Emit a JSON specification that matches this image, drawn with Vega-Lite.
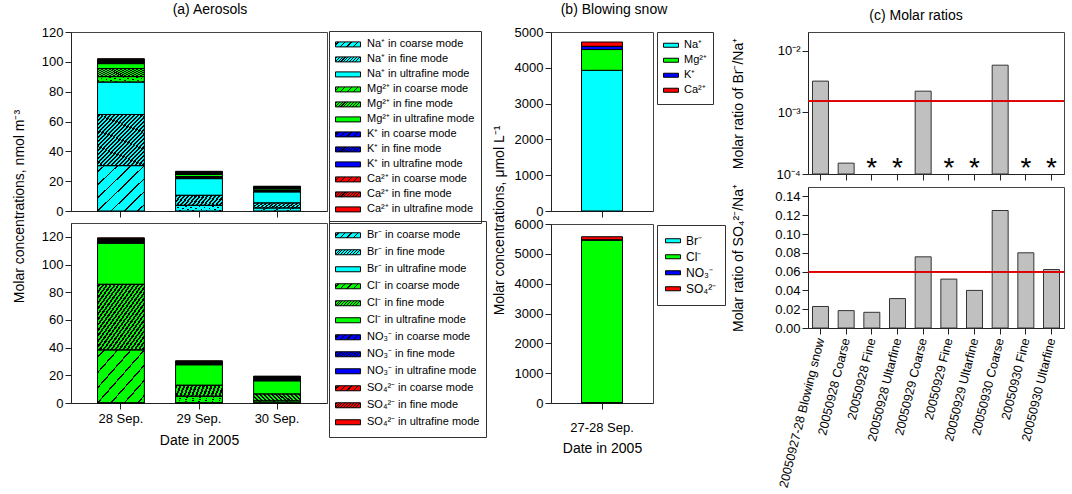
{
  "$schema": "https://vega.github.io/schema/vega-lite/v6.json",
  "background": "white",
  "padding": {"left": 11, "top": 2, "right": 2, "bottom": 0},
  "spacing": 4,
  "resolve": {"scale": {"fill": "independent"}, "legend": {"fill": "independent"}},
  "hconcat": [
    {
      "bounds": "flush",
      "spacing": 12,
      "resolve": {"scale": {"fill": "independent"}, "legend": {"fill": "independent"}},
      "vconcat": [
        {
          "width": 256,
          "height": 179,
          "title": {"text": "(a) Aerosols", "dx": 11, "frame": "group", "offset": 9},
          "data": {"values": [
            {"d": "28 Sep.", "mode": "coarse", "label": "Na⁺ in coarse mode", "v": 30.4},
            {"d": "28 Sep.", "mode": "fine", "label": "Na⁺ in fine mode", "v": 34.3},
            {"d": "28 Sep.", "mode": "ultrafine", "label": "Na⁺ in ultrafine mode", "v": 21.7},
            {"d": "28 Sep.", "mode": "coarse", "label": "Mg²⁺ in coarse mode", "v": 3.7},
            {"d": "28 Sep.", "mode": "fine", "label": "Mg²⁺ in fine mode", "v": 5.4},
            {"d": "28 Sep.", "mode": "ultrafine", "label": "Mg²⁺ in ultrafine mode", "v": 3.3},
            {"d": "28 Sep.", "mode": "coarse", "label": "K⁺ in coarse mode", "v": 0.5},
            {"d": "28 Sep.", "mode": "fine", "label": "K⁺ in fine mode", "v": 0.7},
            {"d": "28 Sep.", "mode": "ultrafine", "label": "K⁺ in ultrafine mode", "v": 0.4},
            {"d": "28 Sep.", "mode": "coarse", "label": "Ca²⁺ in coarse mode", "v": 0.6},
            {"d": "28 Sep.", "mode": "fine", "label": "Ca²⁺ in fine mode", "v": 0.6},
            {"d": "28 Sep.", "mode": "ultrafine", "label": "Ca²⁺ in ultrafine mode", "v": 0.5},
            {"d": "29 Sep.", "mode": "coarse", "label": "Na⁺ in coarse mode", "v": 3.8},
            {"d": "29 Sep.", "mode": "fine", "label": "Na⁺ in fine mode", "v": 6.7},
            {"d": "29 Sep.", "mode": "ultrafine", "label": "Na⁺ in ultrafine mode", "v": 11.2},
            {"d": "29 Sep.", "mode": "coarse", "label": "Mg²⁺ in coarse mode", "v": 0.6},
            {"d": "29 Sep.", "mode": "fine", "label": "Mg²⁺ in fine mode", "v": 0.8},
            {"d": "29 Sep.", "mode": "ultrafine", "label": "Mg²⁺ in ultrafine mode", "v": 1.4},
            {"d": "29 Sep.", "mode": "coarse", "label": "K⁺ in coarse mode", "v": 0.3},
            {"d": "29 Sep.", "mode": "fine", "label": "K⁺ in fine mode", "v": 0.4},
            {"d": "29 Sep.", "mode": "ultrafine", "label": "K⁺ in ultrafine mode", "v": 0.3},
            {"d": "29 Sep.", "mode": "coarse", "label": "Ca²⁺ in coarse mode", "v": 0.3},
            {"d": "29 Sep.", "mode": "fine", "label": "Ca²⁺ in fine mode", "v": 0.5},
            {"d": "29 Sep.", "mode": "ultrafine", "label": "Ca²⁺ in ultrafine mode", "v": 0.3},
            {"d": "30 Sep.", "mode": "coarse", "label": "Na⁺ in coarse mode", "v": 2.0},
            {"d": "30 Sep.", "mode": "fine", "label": "Na⁺ in fine mode", "v": 3.4},
            {"d": "30 Sep.", "mode": "ultrafine", "label": "Na⁺ in ultrafine mode", "v": 7.4},
            {"d": "30 Sep.", "mode": "coarse", "label": "Mg²⁺ in coarse mode", "v": 0.4},
            {"d": "30 Sep.", "mode": "fine", "label": "Mg²⁺ in fine mode", "v": 0.6},
            {"d": "30 Sep.", "mode": "ultrafine", "label": "Mg²⁺ in ultrafine mode", "v": 1.0},
            {"d": "30 Sep.", "mode": "coarse", "label": "K⁺ in coarse mode", "v": 0.3},
            {"d": "30 Sep.", "mode": "fine", "label": "K⁺ in fine mode", "v": 0.4},
            {"d": "30 Sep.", "mode": "ultrafine", "label": "K⁺ in ultrafine mode", "v": 0.2},
            {"d": "30 Sep.", "mode": "coarse", "label": "Ca²⁺ in coarse mode", "v": 0.3},
            {"d": "30 Sep.", "mode": "fine", "label": "Ca²⁺ in fine mode", "v": 0.4},
            {"d": "30 Sep.", "mode": "ultrafine", "label": "Ca²⁺ in ultrafine mode", "v": 0.2}
          ]},
          "transform": [{"calculate": "indexof(['Na⁺ in coarse mode', 'Na⁺ in fine mode', 'Na⁺ in ultrafine mode', 'Mg²⁺ in coarse mode', 'Mg²⁺ in fine mode', 'Mg²⁺ in ultrafine mode', 'K⁺ in coarse mode', 'K⁺ in fine mode', 'K⁺ in ultrafine mode', 'Ca²⁺ in coarse mode', 'Ca²⁺ in fine mode', 'Ca²⁺ in ultrafine mode'], datum.label)", "as": "rank"}],
          "resolve": {"scale": {"fill": "independent"}},
          "layer": [
            {
              "mark": {"type": "bar"},
              "encoding": {
                "x": {"field": "d", "type": "nominal", "sort": null, "scale": {"paddingInner": 0.4, "paddingOuter": 0.34}, "axis": {"labels": false, "title": null, "labelAngle": 0}},
                "y": {"field": "v", "type": "quantitative", "stack": "zero", "scale": {"domain": [0, 120], "nice": false}, "axis": {"values": [0, 20, 40, 60, 80, 100, 120], "tickCount": 20, "labelOverlap": false, "title": "Molar concentrations, nmol m⁻³", "titleX": -45, "titleY": 174}},
                "order": {"field": "rank", "type": "quantitative", "sort": "ascending"},
                "fill": {
                  "field": "label", "type": "nominal", "legend": null,
                  "scale": {
                    "domain": ["Na⁺ in coarse mode", "Na⁺ in fine mode", "Na⁺ in ultrafine mode", "Mg²⁺ in coarse mode", "Mg²⁺ in fine mode", "Mg²⁺ in ultrafine mode", "K⁺ in coarse mode", "K⁺ in fine mode", "K⁺ in ultrafine mode", "Ca²⁺ in coarse mode", "Ca²⁺ in fine mode", "Ca²⁺ in ultrafine mode"],
                    "range": ["#00ffff", "#00ffff", "#00ffff", "#00ff00", "#00ff00", "#00ff00", "#0000ff", "#0000ff", "#0000ff", "#ff0000", "#ff0000", "#ff0000"]
                  }
                }
              }
            },
            {
              "mark": {"type": "bar", "stroke": "#000", "strokeWidth": 1},
              "encoding": {
                "x": {"field": "d", "type": "nominal", "sort": null},
                "y": {"field": "v", "type": "quantitative", "stack": "zero"},
                "order": {"field": "rank", "type": "quantitative", "sort": "ascending"},
                "detail": {"field": "label", "type": "nominal"},
                "fill": {
                  "condition": [
                    {"test": "datum.mode === 'coarse'", "value": {"gradient": "linear", "x1": 0, "y1": 0, "x2": 1, "y2": 1, "stops": [{"offset": 0.0624, "color": "transparent"}, {"offset": 0.0624, "color": "#000"}, {"offset": 0.0804, "color": "#000"}, {"offset": 0.0804, "color": "transparent"}, {"offset": 0.2053, "color": "transparent"}, {"offset": 0.2053, "color": "#000"}, {"offset": 0.2233, "color": "#000"}, {"offset": 0.2233, "color": "transparent"}, {"offset": 0.3481, "color": "transparent"}, {"offset": 0.3481, "color": "#000"}, {"offset": 0.3661, "color": "#000"}, {"offset": 0.3661, "color": "transparent"}, {"offset": 0.491, "color": "transparent"}, {"offset": 0.491, "color": "#000"}, {"offset": 0.509, "color": "#000"}, {"offset": 0.509, "color": "transparent"}, {"offset": 0.6339, "color": "transparent"}, {"offset": 0.6339, "color": "#000"}, {"offset": 0.6519, "color": "#000"}, {"offset": 0.6519, "color": "transparent"}, {"offset": 0.7767, "color": "transparent"}, {"offset": 0.7767, "color": "#000"}, {"offset": 0.7947, "color": "#000"}, {"offset": 0.7947, "color": "transparent"}, {"offset": 0.9196, "color": "transparent"}, {"offset": 0.9196, "color": "#000"}, {"offset": 0.9376, "color": "#000"}, {"offset": 0.9376, "color": "transparent"}]}},
                    {"test": "datum.mode === 'fine'", "value": {"gradient": "linear", "x1": 0, "y1": 0, "x2": 1, "y2": 1, "stops": [{"offset": 0.0098, "color": "transparent"}, {"offset": 0.0098, "color": "#000"}, {"offset": 0.0318, "color": "#000"}, {"offset": 0.0318, "color": "transparent"}, {"offset": 0.0515, "color": "transparent"}, {"offset": 0.0515, "color": "#000"}, {"offset": 0.0735, "color": "#000"}, {"offset": 0.0735, "color": "transparent"}, {"offset": 0.0932, "color": "transparent"}, {"offset": 0.0932, "color": "#000"}, {"offset": 0.1152, "color": "#000"}, {"offset": 0.1152, "color": "transparent"}, {"offset": 0.1348, "color": "transparent"}, {"offset": 0.1348, "color": "#000"}, {"offset": 0.1568, "color": "#000"}, {"offset": 0.1568, "color": "transparent"}, {"offset": 0.1765, "color": "transparent"}, {"offset": 0.1765, "color": "#000"}, {"offset": 0.1985, "color": "#000"}, {"offset": 0.1985, "color": "transparent"}, {"offset": 0.2182, "color": "transparent"}, {"offset": 0.2182, "color": "#000"}, {"offset": 0.2402, "color": "#000"}, {"offset": 0.2402, "color": "transparent"}, {"offset": 0.2598, "color": "transparent"}, {"offset": 0.2598, "color": "#000"}, {"offset": 0.2818, "color": "#000"}, {"offset": 0.2818, "color": "transparent"}, {"offset": 0.3015, "color": "transparent"}, {"offset": 0.3015, "color": "#000"}, {"offset": 0.3235, "color": "#000"}, {"offset": 0.3235, "color": "transparent"}, {"offset": 0.3432, "color": "transparent"}, {"offset": 0.3432, "color": "#000"}, {"offset": 0.3652, "color": "#000"}, {"offset": 0.3652, "color": "transparent"}, {"offset": 0.3848, "color": "transparent"}, {"offset": 0.3848, "color": "#000"}, {"offset": 0.4068, "color": "#000"}, {"offset": 0.4068, "color": "transparent"}, {"offset": 0.4265, "color": "transparent"}, {"offset": 0.4265, "color": "#000"}, {"offset": 0.4485, "color": "#000"}, {"offset": 0.4485, "color": "transparent"}, {"offset": 0.4682, "color": "transparent"}, {"offset": 0.4682, "color": "#000"}, {"offset": 0.4902, "color": "#000"}, {"offset": 0.4902, "color": "transparent"}, {"offset": 0.5098, "color": "transparent"}, {"offset": 0.5098, "color": "#000"}, {"offset": 0.5318, "color": "#000"}, {"offset": 0.5318, "color": "transparent"}, {"offset": 0.5515, "color": "transparent"}, {"offset": 0.5515, "color": "#000"}, {"offset": 0.5735, "color": "#000"}, {"offset": 0.5735, "color": "transparent"}, {"offset": 0.5932, "color": "transparent"}, {"offset": 0.5932, "color": "#000"}, {"offset": 0.6152, "color": "#000"}, {"offset": 0.6152, "color": "transparent"}, {"offset": 0.6348, "color": "transparent"}, {"offset": 0.6348, "color": "#000"}, {"offset": 0.6568, "color": "#000"}, {"offset": 0.6568, "color": "transparent"}, {"offset": 0.6765, "color": "transparent"}, {"offset": 0.6765, "color": "#000"}, {"offset": 0.6985, "color": "#000"}, {"offset": 0.6985, "color": "transparent"}, {"offset": 0.7182, "color": "transparent"}, {"offset": 0.7182, "color": "#000"}, {"offset": 0.7402, "color": "#000"}, {"offset": 0.7402, "color": "transparent"}, {"offset": 0.7598, "color": "transparent"}, {"offset": 0.7598, "color": "#000"}, {"offset": 0.7818, "color": "#000"}, {"offset": 0.7818, "color": "transparent"}, {"offset": 0.8015, "color": "transparent"}, {"offset": 0.8015, "color": "#000"}, {"offset": 0.8235, "color": "#000"}, {"offset": 0.8235, "color": "transparent"}, {"offset": 0.8432, "color": "transparent"}, {"offset": 0.8432, "color": "#000"}, {"offset": 0.8652, "color": "#000"}, {"offset": 0.8652, "color": "transparent"}, {"offset": 0.8848, "color": "transparent"}, {"offset": 0.8848, "color": "#000"}, {"offset": 0.9068, "color": "#000"}, {"offset": 0.9068, "color": "transparent"}, {"offset": 0.9265, "color": "transparent"}, {"offset": 0.9265, "color": "#000"}, {"offset": 0.9485, "color": "#000"}, {"offset": 0.9485, "color": "transparent"}, {"offset": 0.9682, "color": "transparent"}, {"offset": 0.9682, "color": "#000"}, {"offset": 0.9902, "color": "#000"}, {"offset": 0.9902, "color": "transparent"}]}}
                  ],
                  "value": "transparent"
                }
              }
            },
            {
              "mark": {"type": "bar", "opacity": 0},
              "encoding": {
                "x": {"field": "d", "type": "nominal", "sort": null},
                "y": {"field": "v", "type": "quantitative", "stack": "zero"},
                "order": {"field": "rank", "type": "quantitative", "sort": "ascending"},
                "fill": {
                  "field": "label", "type": "nominal",
                  "scale": {
                    "domain": ["Na⁺ in coarse mode", "Na⁺ in fine mode", "Na⁺ in ultrafine mode", "Mg²⁺ in coarse mode", "Mg²⁺ in fine mode", "Mg²⁺ in ultrafine mode", "K⁺ in coarse mode", "K⁺ in fine mode", "K⁺ in ultrafine mode", "Ca²⁺ in coarse mode", "Ca²⁺ in fine mode", "Ca²⁺ in ultrafine mode"],
                    "range": [
                      {"expr": "{gradient:'linear',x1:0,y1:0,x2:1,y2:0.2,stops:[{offset:0.1,color:'#00ffff'},{offset:0.1,color:'#000'},{offset:0.15,color:'#000'},{offset:0.15,color:'#00ffff'},{offset:0.35,color:'#00ffff'},{offset:0.35,color:'#000'},{offset:0.4,color:'#000'},{offset:0.4,color:'#00ffff'},{offset:0.6,color:'#00ffff'},{offset:0.6,color:'#000'},{offset:0.65,color:'#000'},{offset:0.65,color:'#00ffff'},{offset:0.85,color:'#00ffff'},{offset:0.85,color:'#000'},{offset:0.9,color:'#000'},{offset:0.9,color:'#00ffff'}]}"},
                      {"expr": "{gradient:'linear',x1:0,y1:0,x2:1,y2:0.2,stops:[{offset:0.0356,color:'#00ffff'},{offset:0.0356,color:'#000'},{offset:0.0756,color:'#000'},{offset:0.0756,color:'#00ffff'},{offset:0.1467,color:'#00ffff'},{offset:0.1467,color:'#000'},{offset:0.1867,color:'#000'},{offset:0.1867,color:'#00ffff'},{offset:0.2578,color:'#00ffff'},{offset:0.2578,color:'#000'},{offset:0.2978,color:'#000'},{offset:0.2978,color:'#00ffff'},{offset:0.3689,color:'#00ffff'},{offset:0.3689,color:'#000'},{offset:0.4089,color:'#000'},{offset:0.4089,color:'#00ffff'},{offset:0.48,color:'#00ffff'},{offset:0.48,color:'#000'},{offset:0.52,color:'#000'},{offset:0.52,color:'#00ffff'},{offset:0.5911,color:'#00ffff'},{offset:0.5911,color:'#000'},{offset:0.6311,color:'#000'},{offset:0.6311,color:'#00ffff'},{offset:0.7022,color:'#00ffff'},{offset:0.7022,color:'#000'},{offset:0.7422,color:'#000'},{offset:0.7422,color:'#00ffff'},{offset:0.8133,color:'#00ffff'},{offset:0.8133,color:'#000'},{offset:0.8533,color:'#000'},{offset:0.8533,color:'#00ffff'},{offset:0.9244,color:'#00ffff'},{offset:0.9244,color:'#000'},{offset:0.9644,color:'#000'},{offset:0.9644,color:'#00ffff'}]}"},
                      "#00ffff",
                      {"expr": "{gradient:'linear',x1:0,y1:0,x2:1,y2:0.2,stops:[{offset:0.1,color:'#00ff00'},{offset:0.1,color:'#000'},{offset:0.15,color:'#000'},{offset:0.15,color:'#00ff00'},{offset:0.35,color:'#00ff00'},{offset:0.35,color:'#000'},{offset:0.4,color:'#000'},{offset:0.4,color:'#00ff00'},{offset:0.6,color:'#00ff00'},{offset:0.6,color:'#000'},{offset:0.65,color:'#000'},{offset:0.65,color:'#00ff00'},{offset:0.85,color:'#00ff00'},{offset:0.85,color:'#000'},{offset:0.9,color:'#000'},{offset:0.9,color:'#00ff00'}]}"},
                      {"expr": "{gradient:'linear',x1:0,y1:0,x2:1,y2:0.2,stops:[{offset:0.0356,color:'#00ff00'},{offset:0.0356,color:'#000'},{offset:0.0756,color:'#000'},{offset:0.0756,color:'#00ff00'},{offset:0.1467,color:'#00ff00'},{offset:0.1467,color:'#000'},{offset:0.1867,color:'#000'},{offset:0.1867,color:'#00ff00'},{offset:0.2578,color:'#00ff00'},{offset:0.2578,color:'#000'},{offset:0.2978,color:'#000'},{offset:0.2978,color:'#00ff00'},{offset:0.3689,color:'#00ff00'},{offset:0.3689,color:'#000'},{offset:0.4089,color:'#000'},{offset:0.4089,color:'#00ff00'},{offset:0.48,color:'#00ff00'},{offset:0.48,color:'#000'},{offset:0.52,color:'#000'},{offset:0.52,color:'#00ff00'},{offset:0.5911,color:'#00ff00'},{offset:0.5911,color:'#000'},{offset:0.6311,color:'#000'},{offset:0.6311,color:'#00ff00'},{offset:0.7022,color:'#00ff00'},{offset:0.7022,color:'#000'},{offset:0.7422,color:'#000'},{offset:0.7422,color:'#00ff00'},{offset:0.8133,color:'#00ff00'},{offset:0.8133,color:'#000'},{offset:0.8533,color:'#000'},{offset:0.8533,color:'#00ff00'},{offset:0.9244,color:'#00ff00'},{offset:0.9244,color:'#000'},{offset:0.9644,color:'#000'},{offset:0.9644,color:'#00ff00'}]}"},
                      "#00ff00",
                      {"expr": "{gradient:'linear',x1:0,y1:0,x2:1,y2:0.2,stops:[{offset:0.1,color:'#0000ff'},{offset:0.1,color:'#000'},{offset:0.15,color:'#000'},{offset:0.15,color:'#0000ff'},{offset:0.35,color:'#0000ff'},{offset:0.35,color:'#000'},{offset:0.4,color:'#000'},{offset:0.4,color:'#0000ff'},{offset:0.6,color:'#0000ff'},{offset:0.6,color:'#000'},{offset:0.65,color:'#000'},{offset:0.65,color:'#0000ff'},{offset:0.85,color:'#0000ff'},{offset:0.85,color:'#000'},{offset:0.9,color:'#000'},{offset:0.9,color:'#0000ff'}]}"},
                      {"expr": "{gradient:'linear',x1:0,y1:0,x2:1,y2:0.2,stops:[{offset:0.0356,color:'#0000ff'},{offset:0.0356,color:'#000'},{offset:0.0756,color:'#000'},{offset:0.0756,color:'#0000ff'},{offset:0.1467,color:'#0000ff'},{offset:0.1467,color:'#000'},{offset:0.1867,color:'#000'},{offset:0.1867,color:'#0000ff'},{offset:0.2578,color:'#0000ff'},{offset:0.2578,color:'#000'},{offset:0.2978,color:'#000'},{offset:0.2978,color:'#0000ff'},{offset:0.3689,color:'#0000ff'},{offset:0.3689,color:'#000'},{offset:0.4089,color:'#000'},{offset:0.4089,color:'#0000ff'},{offset:0.48,color:'#0000ff'},{offset:0.48,color:'#000'},{offset:0.52,color:'#000'},{offset:0.52,color:'#0000ff'},{offset:0.5911,color:'#0000ff'},{offset:0.5911,color:'#000'},{offset:0.6311,color:'#000'},{offset:0.6311,color:'#0000ff'},{offset:0.7022,color:'#0000ff'},{offset:0.7022,color:'#000'},{offset:0.7422,color:'#000'},{offset:0.7422,color:'#0000ff'},{offset:0.8133,color:'#0000ff'},{offset:0.8133,color:'#000'},{offset:0.8533,color:'#000'},{offset:0.8533,color:'#0000ff'},{offset:0.9244,color:'#0000ff'},{offset:0.9244,color:'#000'},{offset:0.9644,color:'#000'},{offset:0.9644,color:'#0000ff'}]}"},
                      "#0000ff",
                      {"expr": "{gradient:'linear',x1:0,y1:0,x2:1,y2:0.2,stops:[{offset:0.1,color:'#ff0000'},{offset:0.1,color:'#000'},{offset:0.15,color:'#000'},{offset:0.15,color:'#ff0000'},{offset:0.35,color:'#ff0000'},{offset:0.35,color:'#000'},{offset:0.4,color:'#000'},{offset:0.4,color:'#ff0000'},{offset:0.6,color:'#ff0000'},{offset:0.6,color:'#000'},{offset:0.65,color:'#000'},{offset:0.65,color:'#ff0000'},{offset:0.85,color:'#ff0000'},{offset:0.85,color:'#000'},{offset:0.9,color:'#000'},{offset:0.9,color:'#ff0000'}]}"},
                      {"expr": "{gradient:'linear',x1:0,y1:0,x2:1,y2:0.2,stops:[{offset:0.0356,color:'#ff0000'},{offset:0.0356,color:'#000'},{offset:0.0756,color:'#000'},{offset:0.0756,color:'#ff0000'},{offset:0.1467,color:'#ff0000'},{offset:0.1467,color:'#000'},{offset:0.1867,color:'#000'},{offset:0.1867,color:'#ff0000'},{offset:0.2578,color:'#ff0000'},{offset:0.2578,color:'#000'},{offset:0.2978,color:'#000'},{offset:0.2978,color:'#ff0000'},{offset:0.3689,color:'#ff0000'},{offset:0.3689,color:'#000'},{offset:0.4089,color:'#000'},{offset:0.4089,color:'#ff0000'},{offset:0.48,color:'#ff0000'},{offset:0.48,color:'#000'},{offset:0.52,color:'#000'},{offset:0.52,color:'#ff0000'},{offset:0.5911,color:'#ff0000'},{offset:0.5911,color:'#000'},{offset:0.6311,color:'#000'},{offset:0.6311,color:'#ff0000'},{offset:0.7022,color:'#ff0000'},{offset:0.7022,color:'#000'},{offset:0.7422,color:'#000'},{offset:0.7422,color:'#ff0000'},{offset:0.8133,color:'#ff0000'},{offset:0.8133,color:'#000'},{offset:0.8533,color:'#000'},{offset:0.8533,color:'#ff0000'},{offset:0.9244,color:'#ff0000'},{offset:0.9244,color:'#000'},{offset:0.9644,color:'#000'},{offset:0.9644,color:'#ff0000'}]}"},
                      "#ff0000"
                    ]
                  },
                  "legend": {
                    "title": null, "orient": "none", "legendX": 258, "legendY": -1, "padding": 6, "clipHeight": 14.8, "rowPadding": 0,
                    "symbolType": "M-1,-0.2H1V0.2H-1Z", "symbolSize": 625, "symbolOpacity": 1, "labelOffset": 6, "labelFontSize": 11, "labelLimit": 300,
                    "strokeColor": "#333", "symbolStrokeColor": "#000", "symbolStrokeWidth": 1
                  }
                }
              }
            }
          ]
        },
        {
          "width": 256,
          "height": 180,
          "data": {"values": [
            {"d": "28 Sep.", "mode": "coarse", "label": "Br⁻ in coarse mode", "v": 0.005},
            {"d": "28 Sep.", "mode": "coarse", "label": "Cl⁻ in coarse mode", "v": 38.3},
            {"d": "28 Sep.", "mode": "fine", "label": "Cl⁻ in fine mode", "v": 47.4},
            {"d": "28 Sep.", "mode": "ultrafine", "label": "Cl⁻ in ultrafine mode", "v": 29.7},
            {"d": "28 Sep.", "mode": "coarse", "label": "NO₃⁻ in coarse mode", "v": 0.6},
            {"d": "28 Sep.", "mode": "fine", "label": "NO₃⁻ in fine mode", "v": 0.8},
            {"d": "28 Sep.", "mode": "ultrafine", "label": "NO₃⁻ in ultrafine mode", "v": 0.7},
            {"d": "28 Sep.", "mode": "coarse", "label": "SO₄²⁻ in coarse mode", "v": 0.56},
            {"d": "28 Sep.", "mode": "fine", "label": "SO₄²⁻ in fine mode", "v": 0.57},
            {"d": "28 Sep.", "mode": "ultrafine", "label": "SO₄²⁻ in ultrafine mode", "v": 0.67},
            {"d": "29 Sep.", "mode": "coarse", "label": "Br⁻ in coarse mode", "v": 0.008},
            {"d": "29 Sep.", "mode": "coarse", "label": "Cl⁻ in coarse mode", "v": 4.9},
            {"d": "29 Sep.", "mode": "fine", "label": "Cl⁻ in fine mode", "v": 7.9},
            {"d": "29 Sep.", "mode": "ultrafine", "label": "Cl⁻ in ultrafine mode", "v": 14.8},
            {"d": "29 Sep.", "mode": "coarse", "label": "NO₃⁻ in coarse mode", "v": 0.6},
            {"d": "29 Sep.", "mode": "fine", "label": "NO₃⁻ in fine mode", "v": 0.7},
            {"d": "29 Sep.", "mode": "ultrafine", "label": "NO₃⁻ in ultrafine mode", "v": 0.5},
            {"d": "29 Sep.", "mode": "coarse", "label": "SO₄²⁻ in coarse mode", "v": 0.29},
            {"d": "29 Sep.", "mode": "fine", "label": "SO₄²⁻ in fine mode", "v": 0.35},
            {"d": "29 Sep.", "mode": "ultrafine", "label": "SO₄²⁻ in ultrafine mode", "v": 0.46},
            {"d": "30 Sep.", "mode": "coarse", "label": "Br⁻ in coarse mode", "v": 0.012},
            {"d": "30 Sep.", "mode": "coarse", "label": "Cl⁻ in coarse mode", "v": 1.5},
            {"d": "30 Sep.", "mode": "fine", "label": "Cl⁻ in fine mode", "v": 5.0},
            {"d": "30 Sep.", "mode": "ultrafine", "label": "Cl⁻ in ultrafine mode", "v": 9.5},
            {"d": "30 Sep.", "mode": "coarse", "label": "NO₃⁻ in coarse mode", "v": 0.7},
            {"d": "30 Sep.", "mode": "fine", "label": "NO₃⁻ in fine mode", "v": 0.9},
            {"d": "30 Sep.", "mode": "ultrafine", "label": "NO₃⁻ in ultrafine mode", "v": 0.8},
            {"d": "30 Sep.", "mode": "coarse", "label": "SO₄²⁻ in coarse mode", "v": 0.25},
            {"d": "30 Sep.", "mode": "fine", "label": "SO₄²⁻ in fine mode", "v": 0.27},
            {"d": "30 Sep.", "mode": "ultrafine", "label": "SO₄²⁻ in ultrafine mode", "v": 0.46}
          ]},
          "transform": [{"calculate": "indexof(['Br⁻ in coarse mode', 'Br⁻ in fine mode', 'Br⁻ in ultrafine mode', 'Cl⁻ in coarse mode', 'Cl⁻ in fine mode', 'Cl⁻ in ultrafine mode', 'NO₃⁻ in coarse mode', 'NO₃⁻ in fine mode', 'NO₃⁻ in ultrafine mode', 'SO₄²⁻ in coarse mode', 'SO₄²⁻ in fine mode', 'SO₄²⁻ in ultrafine mode'], datum.label)", "as": "rank"}],
          "resolve": {"scale": {"fill": "independent"}},
          "layer": [
            {
              "mark": {"type": "bar"},
              "encoding": {
                "x": {"field": "d", "type": "nominal", "sort": null, "scale": {"paddingInner": 0.4, "paddingOuter": 0.34}, "axis": {"title": "Date in 2005", "labelAngle": 0, "labelPadding": 3, "titlePadding": 8}},
                "y": {"field": "v", "type": "quantitative", "stack": "zero", "scale": {"domain": [0, 130], "nice": false}, "axis": {"values": [0, 20, 40, 60, 80, 100, 120], "tickCount": 20, "labelOverlap": false, "title": null}},
                "order": {"field": "rank", "type": "quantitative", "sort": "ascending"},
                "fill": {
                  "field": "label", "type": "nominal", "legend": null,
                  "scale": {
                    "domain": ["Br⁻ in coarse mode", "Br⁻ in fine mode", "Br⁻ in ultrafine mode", "Cl⁻ in coarse mode", "Cl⁻ in fine mode", "Cl⁻ in ultrafine mode", "NO₃⁻ in coarse mode", "NO₃⁻ in fine mode", "NO₃⁻ in ultrafine mode", "SO₄²⁻ in coarse mode", "SO₄²⁻ in fine mode", "SO₄²⁻ in ultrafine mode"],
                    "range": ["#00ffff", "#00ffff", "#00ffff", "#00ff00", "#00ff00", "#00ff00", "#0000ff", "#0000ff", "#0000ff", "#ff0000", "#ff0000", "#ff0000"]
                  }
                }
              }
            },
            {
              "mark": {"type": "bar", "stroke": "#000", "strokeWidth": 1},
              "encoding": {
                "x": {"field": "d", "type": "nominal", "sort": null},
                "y": {"field": "v", "type": "quantitative", "stack": "zero"},
                "order": {"field": "rank", "type": "quantitative", "sort": "ascending"},
                "detail": {"field": "label", "type": "nominal"},
                "fill": {
                  "condition": [
                    {"test": "datum.mode === 'coarse'", "value": {"gradient": "linear", "x1": 0, "y1": 0, "x2": 1, "y2": 1, "stops": [{"offset": 0.0624, "color": "transparent"}, {"offset": 0.0624, "color": "#000"}, {"offset": 0.0804, "color": "#000"}, {"offset": 0.0804, "color": "transparent"}, {"offset": 0.2053, "color": "transparent"}, {"offset": 0.2053, "color": "#000"}, {"offset": 0.2233, "color": "#000"}, {"offset": 0.2233, "color": "transparent"}, {"offset": 0.3481, "color": "transparent"}, {"offset": 0.3481, "color": "#000"}, {"offset": 0.3661, "color": "#000"}, {"offset": 0.3661, "color": "transparent"}, {"offset": 0.491, "color": "transparent"}, {"offset": 0.491, "color": "#000"}, {"offset": 0.509, "color": "#000"}, {"offset": 0.509, "color": "transparent"}, {"offset": 0.6339, "color": "transparent"}, {"offset": 0.6339, "color": "#000"}, {"offset": 0.6519, "color": "#000"}, {"offset": 0.6519, "color": "transparent"}, {"offset": 0.7767, "color": "transparent"}, {"offset": 0.7767, "color": "#000"}, {"offset": 0.7947, "color": "#000"}, {"offset": 0.7947, "color": "transparent"}, {"offset": 0.9196, "color": "transparent"}, {"offset": 0.9196, "color": "#000"}, {"offset": 0.9376, "color": "#000"}, {"offset": 0.9376, "color": "transparent"}]}},
                    {"test": "datum.mode === 'fine'", "value": {"gradient": "linear", "x1": 0, "y1": 0, "x2": 1, "y2": 1, "stops": [{"offset": 0.0098, "color": "transparent"}, {"offset": 0.0098, "color": "#000"}, {"offset": 0.0318, "color": "#000"}, {"offset": 0.0318, "color": "transparent"}, {"offset": 0.0515, "color": "transparent"}, {"offset": 0.0515, "color": "#000"}, {"offset": 0.0735, "color": "#000"}, {"offset": 0.0735, "color": "transparent"}, {"offset": 0.0932, "color": "transparent"}, {"offset": 0.0932, "color": "#000"}, {"offset": 0.1152, "color": "#000"}, {"offset": 0.1152, "color": "transparent"}, {"offset": 0.1348, "color": "transparent"}, {"offset": 0.1348, "color": "#000"}, {"offset": 0.1568, "color": "#000"}, {"offset": 0.1568, "color": "transparent"}, {"offset": 0.1765, "color": "transparent"}, {"offset": 0.1765, "color": "#000"}, {"offset": 0.1985, "color": "#000"}, {"offset": 0.1985, "color": "transparent"}, {"offset": 0.2182, "color": "transparent"}, {"offset": 0.2182, "color": "#000"}, {"offset": 0.2402, "color": "#000"}, {"offset": 0.2402, "color": "transparent"}, {"offset": 0.2598, "color": "transparent"}, {"offset": 0.2598, "color": "#000"}, {"offset": 0.2818, "color": "#000"}, {"offset": 0.2818, "color": "transparent"}, {"offset": 0.3015, "color": "transparent"}, {"offset": 0.3015, "color": "#000"}, {"offset": 0.3235, "color": "#000"}, {"offset": 0.3235, "color": "transparent"}, {"offset": 0.3432, "color": "transparent"}, {"offset": 0.3432, "color": "#000"}, {"offset": 0.3652, "color": "#000"}, {"offset": 0.3652, "color": "transparent"}, {"offset": 0.3848, "color": "transparent"}, {"offset": 0.3848, "color": "#000"}, {"offset": 0.4068, "color": "#000"}, {"offset": 0.4068, "color": "transparent"}, {"offset": 0.4265, "color": "transparent"}, {"offset": 0.4265, "color": "#000"}, {"offset": 0.4485, "color": "#000"}, {"offset": 0.4485, "color": "transparent"}, {"offset": 0.4682, "color": "transparent"}, {"offset": 0.4682, "color": "#000"}, {"offset": 0.4902, "color": "#000"}, {"offset": 0.4902, "color": "transparent"}, {"offset": 0.5098, "color": "transparent"}, {"offset": 0.5098, "color": "#000"}, {"offset": 0.5318, "color": "#000"}, {"offset": 0.5318, "color": "transparent"}, {"offset": 0.5515, "color": "transparent"}, {"offset": 0.5515, "color": "#000"}, {"offset": 0.5735, "color": "#000"}, {"offset": 0.5735, "color": "transparent"}, {"offset": 0.5932, "color": "transparent"}, {"offset": 0.5932, "color": "#000"}, {"offset": 0.6152, "color": "#000"}, {"offset": 0.6152, "color": "transparent"}, {"offset": 0.6348, "color": "transparent"}, {"offset": 0.6348, "color": "#000"}, {"offset": 0.6568, "color": "#000"}, {"offset": 0.6568, "color": "transparent"}, {"offset": 0.6765, "color": "transparent"}, {"offset": 0.6765, "color": "#000"}, {"offset": 0.6985, "color": "#000"}, {"offset": 0.6985, "color": "transparent"}, {"offset": 0.7182, "color": "transparent"}, {"offset": 0.7182, "color": "#000"}, {"offset": 0.7402, "color": "#000"}, {"offset": 0.7402, "color": "transparent"}, {"offset": 0.7598, "color": "transparent"}, {"offset": 0.7598, "color": "#000"}, {"offset": 0.7818, "color": "#000"}, {"offset": 0.7818, "color": "transparent"}, {"offset": 0.8015, "color": "transparent"}, {"offset": 0.8015, "color": "#000"}, {"offset": 0.8235, "color": "#000"}, {"offset": 0.8235, "color": "transparent"}, {"offset": 0.8432, "color": "transparent"}, {"offset": 0.8432, "color": "#000"}, {"offset": 0.8652, "color": "#000"}, {"offset": 0.8652, "color": "transparent"}, {"offset": 0.8848, "color": "transparent"}, {"offset": 0.8848, "color": "#000"}, {"offset": 0.9068, "color": "#000"}, {"offset": 0.9068, "color": "transparent"}, {"offset": 0.9265, "color": "transparent"}, {"offset": 0.9265, "color": "#000"}, {"offset": 0.9485, "color": "#000"}, {"offset": 0.9485, "color": "transparent"}, {"offset": 0.9682, "color": "transparent"}, {"offset": 0.9682, "color": "#000"}, {"offset": 0.9902, "color": "#000"}, {"offset": 0.9902, "color": "transparent"}]}}
                  ],
                  "value": "transparent"
                }
              }
            },
            {
              "mark": {"type": "bar", "opacity": 0},
              "encoding": {
                "x": {"field": "d", "type": "nominal", "sort": null},
                "y": {"field": "v", "type": "quantitative", "stack": "zero"},
                "order": {"field": "rank", "type": "quantitative", "sort": "ascending"},
                "fill": {
                  "field": "label", "type": "nominal",
                  "scale": {
                    "domain": ["Br⁻ in coarse mode", "Br⁻ in fine mode", "Br⁻ in ultrafine mode", "Cl⁻ in coarse mode", "Cl⁻ in fine mode", "Cl⁻ in ultrafine mode", "NO₃⁻ in coarse mode", "NO₃⁻ in fine mode", "NO₃⁻ in ultrafine mode", "SO₄²⁻ in coarse mode", "SO₄²⁻ in fine mode", "SO₄²⁻ in ultrafine mode"],
                    "range": [
                      {"expr": "{gradient:'linear',x1:0,y1:0,x2:1,y2:0.2,stops:[{offset:0.1,color:'#00ffff'},{offset:0.1,color:'#000'},{offset:0.15,color:'#000'},{offset:0.15,color:'#00ffff'},{offset:0.35,color:'#00ffff'},{offset:0.35,color:'#000'},{offset:0.4,color:'#000'},{offset:0.4,color:'#00ffff'},{offset:0.6,color:'#00ffff'},{offset:0.6,color:'#000'},{offset:0.65,color:'#000'},{offset:0.65,color:'#00ffff'},{offset:0.85,color:'#00ffff'},{offset:0.85,color:'#000'},{offset:0.9,color:'#000'},{offset:0.9,color:'#00ffff'}]}"},
                      {"expr": "{gradient:'linear',x1:0,y1:0,x2:1,y2:0.2,stops:[{offset:0.0356,color:'#00ffff'},{offset:0.0356,color:'#000'},{offset:0.0756,color:'#000'},{offset:0.0756,color:'#00ffff'},{offset:0.1467,color:'#00ffff'},{offset:0.1467,color:'#000'},{offset:0.1867,color:'#000'},{offset:0.1867,color:'#00ffff'},{offset:0.2578,color:'#00ffff'},{offset:0.2578,color:'#000'},{offset:0.2978,color:'#000'},{offset:0.2978,color:'#00ffff'},{offset:0.3689,color:'#00ffff'},{offset:0.3689,color:'#000'},{offset:0.4089,color:'#000'},{offset:0.4089,color:'#00ffff'},{offset:0.48,color:'#00ffff'},{offset:0.48,color:'#000'},{offset:0.52,color:'#000'},{offset:0.52,color:'#00ffff'},{offset:0.5911,color:'#00ffff'},{offset:0.5911,color:'#000'},{offset:0.6311,color:'#000'},{offset:0.6311,color:'#00ffff'},{offset:0.7022,color:'#00ffff'},{offset:0.7022,color:'#000'},{offset:0.7422,color:'#000'},{offset:0.7422,color:'#00ffff'},{offset:0.8133,color:'#00ffff'},{offset:0.8133,color:'#000'},{offset:0.8533,color:'#000'},{offset:0.8533,color:'#00ffff'},{offset:0.9244,color:'#00ffff'},{offset:0.9244,color:'#000'},{offset:0.9644,color:'#000'},{offset:0.9644,color:'#00ffff'}]}"},
                      "#00ffff",
                      {"expr": "{gradient:'linear',x1:0,y1:0,x2:1,y2:0.2,stops:[{offset:0.1,color:'#00ff00'},{offset:0.1,color:'#000'},{offset:0.15,color:'#000'},{offset:0.15,color:'#00ff00'},{offset:0.35,color:'#00ff00'},{offset:0.35,color:'#000'},{offset:0.4,color:'#000'},{offset:0.4,color:'#00ff00'},{offset:0.6,color:'#00ff00'},{offset:0.6,color:'#000'},{offset:0.65,color:'#000'},{offset:0.65,color:'#00ff00'},{offset:0.85,color:'#00ff00'},{offset:0.85,color:'#000'},{offset:0.9,color:'#000'},{offset:0.9,color:'#00ff00'}]}"},
                      {"expr": "{gradient:'linear',x1:0,y1:0,x2:1,y2:0.2,stops:[{offset:0.0356,color:'#00ff00'},{offset:0.0356,color:'#000'},{offset:0.0756,color:'#000'},{offset:0.0756,color:'#00ff00'},{offset:0.1467,color:'#00ff00'},{offset:0.1467,color:'#000'},{offset:0.1867,color:'#000'},{offset:0.1867,color:'#00ff00'},{offset:0.2578,color:'#00ff00'},{offset:0.2578,color:'#000'},{offset:0.2978,color:'#000'},{offset:0.2978,color:'#00ff00'},{offset:0.3689,color:'#00ff00'},{offset:0.3689,color:'#000'},{offset:0.4089,color:'#000'},{offset:0.4089,color:'#00ff00'},{offset:0.48,color:'#00ff00'},{offset:0.48,color:'#000'},{offset:0.52,color:'#000'},{offset:0.52,color:'#00ff00'},{offset:0.5911,color:'#00ff00'},{offset:0.5911,color:'#000'},{offset:0.6311,color:'#000'},{offset:0.6311,color:'#00ff00'},{offset:0.7022,color:'#00ff00'},{offset:0.7022,color:'#000'},{offset:0.7422,color:'#000'},{offset:0.7422,color:'#00ff00'},{offset:0.8133,color:'#00ff00'},{offset:0.8133,color:'#000'},{offset:0.8533,color:'#000'},{offset:0.8533,color:'#00ff00'},{offset:0.9244,color:'#00ff00'},{offset:0.9244,color:'#000'},{offset:0.9644,color:'#000'},{offset:0.9644,color:'#00ff00'}]}"},
                      "#00ff00",
                      {"expr": "{gradient:'linear',x1:0,y1:0,x2:1,y2:0.2,stops:[{offset:0.1,color:'#0000ff'},{offset:0.1,color:'#000'},{offset:0.15,color:'#000'},{offset:0.15,color:'#0000ff'},{offset:0.35,color:'#0000ff'},{offset:0.35,color:'#000'},{offset:0.4,color:'#000'},{offset:0.4,color:'#0000ff'},{offset:0.6,color:'#0000ff'},{offset:0.6,color:'#000'},{offset:0.65,color:'#000'},{offset:0.65,color:'#0000ff'},{offset:0.85,color:'#0000ff'},{offset:0.85,color:'#000'},{offset:0.9,color:'#000'},{offset:0.9,color:'#0000ff'}]}"},
                      {"expr": "{gradient:'linear',x1:0,y1:0,x2:1,y2:0.2,stops:[{offset:0.0356,color:'#0000ff'},{offset:0.0356,color:'#000'},{offset:0.0756,color:'#000'},{offset:0.0756,color:'#0000ff'},{offset:0.1467,color:'#0000ff'},{offset:0.1467,color:'#000'},{offset:0.1867,color:'#000'},{offset:0.1867,color:'#0000ff'},{offset:0.2578,color:'#0000ff'},{offset:0.2578,color:'#000'},{offset:0.2978,color:'#000'},{offset:0.2978,color:'#0000ff'},{offset:0.3689,color:'#0000ff'},{offset:0.3689,color:'#000'},{offset:0.4089,color:'#000'},{offset:0.4089,color:'#0000ff'},{offset:0.48,color:'#0000ff'},{offset:0.48,color:'#000'},{offset:0.52,color:'#000'},{offset:0.52,color:'#0000ff'},{offset:0.5911,color:'#0000ff'},{offset:0.5911,color:'#000'},{offset:0.6311,color:'#000'},{offset:0.6311,color:'#0000ff'},{offset:0.7022,color:'#0000ff'},{offset:0.7022,color:'#000'},{offset:0.7422,color:'#000'},{offset:0.7422,color:'#0000ff'},{offset:0.8133,color:'#0000ff'},{offset:0.8133,color:'#000'},{offset:0.8533,color:'#000'},{offset:0.8533,color:'#0000ff'},{offset:0.9244,color:'#0000ff'},{offset:0.9244,color:'#000'},{offset:0.9644,color:'#000'},{offset:0.9644,color:'#0000ff'}]}"},
                      "#0000ff",
                      {"expr": "{gradient:'linear',x1:0,y1:0,x2:1,y2:0.2,stops:[{offset:0.1,color:'#ff0000'},{offset:0.1,color:'#000'},{offset:0.15,color:'#000'},{offset:0.15,color:'#ff0000'},{offset:0.35,color:'#ff0000'},{offset:0.35,color:'#000'},{offset:0.4,color:'#000'},{offset:0.4,color:'#ff0000'},{offset:0.6,color:'#ff0000'},{offset:0.6,color:'#000'},{offset:0.65,color:'#000'},{offset:0.65,color:'#ff0000'},{offset:0.85,color:'#ff0000'},{offset:0.85,color:'#000'},{offset:0.9,color:'#000'},{offset:0.9,color:'#ff0000'}]}"},
                      {"expr": "{gradient:'linear',x1:0,y1:0,x2:1,y2:0.2,stops:[{offset:0.0356,color:'#ff0000'},{offset:0.0356,color:'#000'},{offset:0.0756,color:'#000'},{offset:0.0756,color:'#ff0000'},{offset:0.1467,color:'#ff0000'},{offset:0.1467,color:'#000'},{offset:0.1867,color:'#000'},{offset:0.1867,color:'#ff0000'},{offset:0.2578,color:'#ff0000'},{offset:0.2578,color:'#000'},{offset:0.2978,color:'#000'},{offset:0.2978,color:'#ff0000'},{offset:0.3689,color:'#ff0000'},{offset:0.3689,color:'#000'},{offset:0.4089,color:'#000'},{offset:0.4089,color:'#ff0000'},{offset:0.48,color:'#ff0000'},{offset:0.48,color:'#000'},{offset:0.52,color:'#000'},{offset:0.52,color:'#ff0000'},{offset:0.5911,color:'#ff0000'},{offset:0.5911,color:'#000'},{offset:0.6311,color:'#000'},{offset:0.6311,color:'#ff0000'},{offset:0.7022,color:'#ff0000'},{offset:0.7022,color:'#000'},{offset:0.7422,color:'#000'},{offset:0.7422,color:'#ff0000'},{offset:0.8133,color:'#ff0000'},{offset:0.8133,color:'#000'},{offset:0.8533,color:'#000'},{offset:0.8533,color:'#ff0000'},{offset:0.9244,color:'#ff0000'},{offset:0.9244,color:'#000'},{offset:0.9644,color:'#000'},{offset:0.9644,color:'#ff0000'}]}"},
                      "#ff0000"
                    ]
                  },
                  "legend": {
                    "title": null, "orient": "none", "legendX": 258, "legendY": -2, "padding": 6, "clipHeight": 16.5, "rowPadding": 0,
                    "symbolType": "M-1,-0.2H1V0.2H-1Z", "symbolSize": 625, "symbolOpacity": 1, "labelOffset": 6, "labelFontSize": 11, "labelLimit": 300,
                    "strokeColor": "#333", "symbolStrokeColor": "#000", "symbolStrokeWidth": 1
                  }
                }
              }
            }
          ]
        }
      ]
    },
    {
      "bounds": "flush",
      "spacing": 13,
      "resolve": {"scale": {"fill": "independent"}, "legend": {"fill": "independent"}},
      "vconcat": [
        {
          "width": 102,
          "height": 179,
          "title": {"text": "(b) Blowing snow", "dx": 12, "frame": "group", "offset": 9},
          "data": {"values": [
            {"d": "27-28 Sep.", "label": "Na⁺", "v": 3930},
            {"d": "27-28 Sep.", "label": "Mg²⁺", "v": 580},
            {"d": "27-28 Sep.", "label": "K⁺", "v": 90},
            {"d": "27-28 Sep.", "label": "Ca²⁺", "v": 120}
          ]},
          "transform": [{"calculate": "indexof(['Na⁺', 'Mg²⁺', 'K⁺', 'Ca²⁺'], datum.label)", "as": "rank"}],
          "mark": {"type": "bar", "stroke": "#000", "strokeWidth": 1},
          "encoding": {
            "x": {"field": "d", "type": "nominal", "scale": {"paddingInner": 0, "paddingOuter": 0.744}, "axis": {"labels": false, "title": null}},
            "y": {"field": "v", "type": "quantitative", "stack": "zero", "scale": {"domain": [0, 5000], "nice": false}, "axis": {"values": [0, 1000, 2000, 3000, 4000, 5000], "tickCount": 20, "labelOverlap": false, "format": "d", "title": "Molar concentrations, μmol L⁻¹", "titleX": -45, "titleY": 188}},
            "order": {"field": "rank", "type": "quantitative", "sort": "ascending"},
            "fill": {
              "field": "label", "type": "nominal",
              "scale": {"domain": ["Na⁺", "Mg²⁺", "K⁺", "Ca²⁺"], "range": ["#00ffff", "#00ff00", "#0000ff", "#ff0000"]},
              "legend": {"title": null, "orient": "none", "legendX": 106, "legendY": 0, "padding": 6, "clipHeight": 14.5, "rowPadding": 0, "symbolType": "M-1,-0.267H1V0.267H-1Z", "symbolSize": 225, "labelOffset": 5, "labelFontSize": 11, "strokeColor": "#333", "symbolStrokeColor": "#000", "symbolStrokeWidth": 1}
            }
          }
        },
        {
          "width": 102,
          "height": 179,
          "data": {"values": [
            {"d": "27-28 Sep.", "label": "Br⁻", "v": 13},
            {"d": "27-28 Sep.", "label": "Cl⁻", "v": 5445},
            {"d": "27-28 Sep.", "label": "NO₃⁻", "v": 15},
            {"d": "27-28 Sep.", "label": "SO₄²⁻", "v": 100}
          ]},
          "transform": [{"calculate": "indexof(['Br⁻', 'Cl⁻', 'NO₃⁻', 'SO₄²⁻'], datum.label)", "as": "rank"}],
          "mark": {"type": "bar", "stroke": "#000", "strokeWidth": 1},
          "encoding": {
            "x": {"field": "d", "type": "nominal", "scale": {"paddingInner": 0, "paddingOuter": 0.744}, "axis": {"title": "Date in 2005", "labelAngle": 0, "labelPadding": 12, "titlePadding": 7}},
            "y": {"field": "v", "type": "quantitative", "stack": "zero", "scale": {"domain": [0, 6000], "nice": false}, "axis": {"values": [0, 1000, 2000, 3000, 4000, 5000, 6000], "tickCount": 20, "labelOverlap": false, "format": "d", "title": null}},
            "order": {"field": "rank", "type": "quantitative", "sort": "ascending"},
            "fill": {
              "field": "label", "type": "nominal",
              "scale": {"domain": ["Br⁻", "Cl⁻", "NO₃⁻", "SO₄²⁻"], "range": ["#00ffff", "#00ff00", "#0000ff", "#ff0000"]},
              "legend": {"title": null, "orient": "none", "legendX": 106, "legendY": 1, "padding": 8, "clipHeight": 15.5, "rowPadding": 0, "symbolType": "M-1,-0.267H1V0.267H-1Z", "symbolSize": 225, "labelOffset": 5, "labelFontSize": 12, "strokeColor": "#333", "symbolStrokeColor": "#000", "symbolStrokeWidth": 1}
            }
          }
        }
      ]
    },
    {
      "bounds": "flush",
      "spacing": 13,
      "data": {"values": [
        {"s": "20050927-28 Blowing snow", "br": 0.0032, "so4": 0.0229},
        {"s": "20050928 Coarse", "br": 0.00015, "so4": 0.0185},
        {"s": "20050928 Fine", "br": null, "so4": 0.0167},
        {"s": "20050928 Ultarfine", "br": null, "so4": 0.0313},
        {"s": "20050929 Coarse", "br": 0.0022, "so4": 0.0757},
        {"s": "20050929 Fine", "br": null, "so4": 0.052},
        {"s": "20050929 Ultarfine", "br": null, "so4": 0.04},
        {"s": "20050930 Coarse", "br": 0.0058, "so4": 0.125},
        {"s": "20050930 Fine", "br": null, "so4": 0.08},
        {"s": "20050930 Ultarfine", "br": null, "so4": 0.0622}
      ]},
      "vconcat": [
        {
          "width": 256,
          "height": 142,
          "title": {"text": "(c) Molar ratios", "dx": -20, "frame": "group", "offset": 9},
          "layer": [
            {
              "mark": {"type": "bar", "fill": "#c0c0c0", "stroke": "#333", "strokeWidth": 1},
              "encoding": {
                "x": {"field": "s", "type": "nominal", "scale": {"domain": ["20050927-28 Blowing snow", "20050928 Coarse", "20050928 Fine", "20050928 Ultarfine", "20050929 Coarse", "20050929 Fine", "20050929 Ultarfine", "20050930 Coarse", "20050930 Fine", "20050930 Ultarfine"], "paddingInner": 0.377, "paddingOuter": 0.175}, "axis": {"labels": false, "title": null}},
                "y": {"field": "br", "type": "quantitative", "scale": {"type": "log", "domain": [0.0001, 0.02], "nice": false}, "axis": {"values": [0.0001, 0.001, 0.01], "tickCount": 20, "labelOverlap": false, "labelExpr": "datum.value < 0.0005 ? '10⁻⁴' : datum.value < 0.005 ? '10⁻³' : '10⁻²'", "title": "Molar ratio of Br⁻/Na⁺", "titleX": -63}},
                "y2": {"datum": 0.0001}
              }
            },
            {
              "mark": {"type": "rule", "color": "#dd0000", "strokeWidth": 1.2},
              "encoding": {"y": {"datum": 0.0015}}
            },
            {
              "transform": [{"filter": "datum.br == null"}],
              "mark": {"type": "text", "text": "*", "fontSize": 28, "baseline": "middle", "color": "#000"},
              "encoding": {
                "x": {"field": "s", "type": "nominal"},
                "y": {"datum": 0.000122}
              }
            }
          ]
        },
        {
          "width": 256,
          "height": 141,
          "layer": [
            {
              "mark": {"type": "bar", "fill": "#c0c0c0", "stroke": "#333", "strokeWidth": 1},
              "encoding": {
                "x": {"field": "s", "type": "nominal", "scale": {"domain": ["20050927-28 Blowing snow", "20050928 Coarse", "20050928 Fine", "20050928 Ultarfine", "20050929 Coarse", "20050929 Fine", "20050929 Ultarfine", "20050930 Coarse", "20050930 Fine", "20050930 Ultarfine"], "paddingInner": 0.377, "paddingOuter": 0.175}, "axis": {"title": null, "labelAngle": -76, "labelFontSize": 12.5, "labelPadding": 4}},
                "y": {"field": "so4", "type": "quantitative", "scale": {"domain": [0, 0.15], "nice": false}, "axis": {"values": [0, 0.02, 0.04, 0.06, 0.08, 0.1, 0.12, 0.14], "tickCount": 20, "labelOverlap": false, "format": ".2f", "title": "Molar ratio of SO₄²⁻/Na⁺", "titleX": -63}}
              }
            },
            {
              "mark": {"type": "rule", "color": "#dd0000", "strokeWidth": 1.2},
              "encoding": {"y": {"datum": 0.06}}
            }
          ]
        }
      ]
    }
  ],
  "config": {
    "font": "Liberation Sans",
    "view": {"stroke": "#444", "strokeWidth": 1},
    "axis": {"labelFont": "Liberation Sans", "labelFontSize": 13, "labelColor": "#000", "labelOverlap": false, "titleFont": "Liberation Sans", "titleFontSize": 14, "titleFontWeight": "normal", "titleColor": "#000", "tickColor": "#222", "domainColor": "#222", "tickSize": 6, "grid": false},
    "legend": {"labelFont": "Liberation Sans", "labelFontSize": 11, "labelColor": "#000", "labelLimit": 300},
    "title": {"font": "Liberation Sans", "fontSize": 14, "fontWeight": "normal", "color": "#000"}
  }
}
